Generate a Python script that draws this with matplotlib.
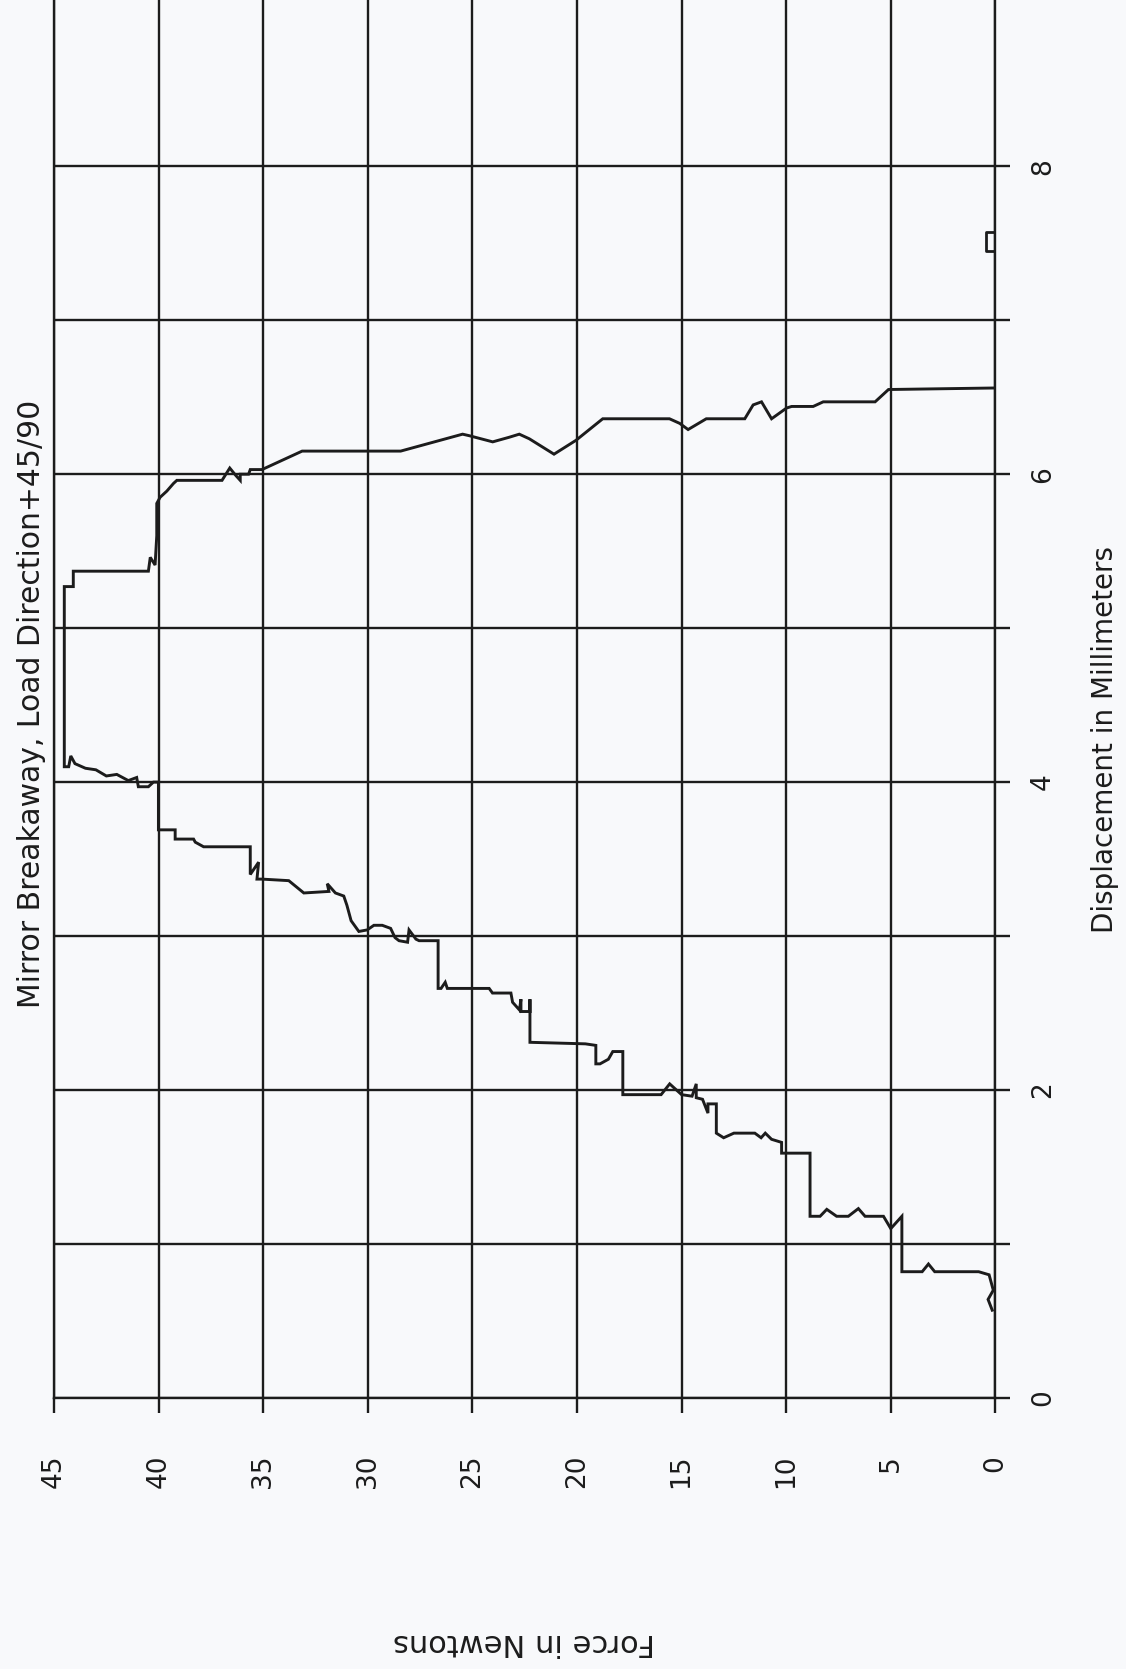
import matplotlib
matplotlib.use("Agg")
import matplotlib.pyplot as plt

# ---- data ----
force_N = [0.15, 0.35, 0.10, 0.30, 0.8, 2.9, 3.2, 3.5, 4.47, 4.47, 5.0, 5.35, 6.23, 6.55, 7.03,
           7.59, 8.06, 8.38, 8.86, 8.86, 10.22, 10.22, 10.7, 11.0, 11.2, 11.5, 12.5, 12.99,
           13.34, 13.34, 13.74, 13.74, 14.0, 14.3, 14.3, 14.5, 15.0, 15.57, 15.98, 17.81,
           17.81, 18.29, 18.5, 18.9, 19.1, 19.1, 19.6, 22.25, 22.25, 22.25, 22.68, 22.68,
           22.75, 23.08, 23.16, 24.04, 24.20, 26.2, 26.3, 26.5, 26.64, 26.64, 27.55, 27.7,
           28.03, 28.1, 28.51, 28.7, 28.91, 29.31, 29.71, 30.03, 30.43, 30.8, 31.0, 31.15,
           31.55, 31.94, 31.86, 33.06, 33.78, 35.06, 35.3, 35.22, 35.62, 35.62, 37.85, 38.25,
           38.33, 39.21, 39.21, 40.01, 40.01, 40.25, 40.49, 40.97, 41.05, 41.45, 42.0, 42.5,
           43.0, 43.5, 44.0, 44.2, 44.3, 44.51, 44.51, 44.08, 44.08, 40.49, 40.4, 40.17,
           40.09, 40.09, 39.93, 39.61, 39.29, 39.13, 36.97, 36.6, 36.3, 36.1, 36.1, 35.7,
           35.62, 35.06, 33.14, 28.43, 25.47, 25.15, 24.03, 23.24, 22.76, 22.28, 21.1, 20.05,
           18.77, 15.58, 15.09, 14.69, 13.82, 11.98, 11.58, 11.18, 10.70, 9.98, 9.74, 8.71,
           8.23, 5.75, 5.11, 0.0]
disp_mm = [0.57, 0.64, 0.70, 0.80, 0.82, 0.82, 0.87, 0.82, 0.82, 1.18, 1.10, 1.18, 1.18, 1.23,
           1.18, 1.18, 1.225, 1.18, 1.18, 1.59, 1.59, 1.66, 1.68, 1.72, 1.69, 1.72, 1.72, 1.69,
           1.72, 1.91, 1.91, 1.85, 1.94, 1.95, 2.04, 1.96, 1.97, 2.04, 1.97, 1.97, 2.25, 2.25,
           2.20, 2.17, 2.17, 2.29, 2.30, 2.31, 2.59, 2.51, 2.51, 2.59, 2.52, 2.57, 2.63, 2.63,
           2.66, 2.66, 2.70, 2.66, 2.66, 2.97, 2.97, 2.98, 3.04, 2.96, 2.97, 2.99, 3.05, 3.07,
           3.07, 3.04, 3.03, 3.10, 3.20, 3.26, 3.28, 3.34, 3.29, 3.28, 3.36, 3.37, 3.37, 3.48,
           3.40, 3.58, 3.58, 3.61, 3.63, 3.63, 3.69, 3.69, 4.00, 4.00, 3.97, 3.97, 4.03, 4.01,
           4.05, 4.04, 4.08, 4.09, 4.12, 4.17, 4.10, 4.10, 5.27, 5.27, 5.37, 5.37, 5.46, 5.41,
           5.60, 5.81, 5.85, 5.89, 5.94, 5.96, 5.96, 6.04, 5.99, 5.96, 6.00, 6.00, 6.03, 6.03,
           6.15, 6.15, 6.26, 6.25, 6.21, 6.24, 6.26, 6.23, 6.13, 6.22, 6.36, 6.36, 6.33, 6.29,
           6.36, 6.36, 6.45, 6.47, 6.36, 6.43, 6.44, 6.44, 6.47, 6.47, 6.55, 6.56]

box_force_N = [0.0, 0.45, 0.45, 0.0]
box_disp_mm = [7.45, 7.45, 7.57, 7.57]

force_ticks = [0, 5, 10, 15, 20, 25, 30, 35, 40, 45]
force_labels = ["0", "5", "10", "15", "20", "25", "30", "35", "40", "45"]
disp_ticks = [0, 1, 2, 3, 4, 5, 6, 7, 8]
disp_labels = ["0", "", "2", "", "4", "", "6", "", "8"]

title = "Mirror Breakaway, Load Direction+45/90"
xlabel = "Force in Newtons"
ylabel = "Displacement in Millimeters"

# ---- figure ----
ink = "#1c1c1c"
bg = "#f8f9fb"
fig = plt.figure(figsize=(11.26, 16.69), dpi=100, facecolor=bg)
ax = fig.add_axes([0.048, 0.1624, 0.836, 0.8376])
ax.set_facecolor(bg)

ax.plot(force_N, disp_mm, color=ink, lw=2.1, solid_joinstyle="miter")
ax.plot(box_force_N, box_disp_mm, color=ink, lw=2.0)

ax.set_xlim(45, 0)
ax.set_ylim(0, 9.08)

ax.set_xticks(force_ticks)
ax.set_xticklabels(force_labels)
ax.set_yticks(disp_ticks)
ax.set_yticklabels(disp_labels)

ax.grid(True, color=ink, lw=1.7)
ax.set_axisbelow(True)

for s in ["left", "right", "bottom"]:
    ax.spines[s].set_color(ink)
    ax.spines[s].set_linewidth(1.7)
ax.spines["top"].set_visible(False)

ax.tick_params(axis="x", direction="out", length=11, width=1.7, color=ink,
               pad=30, labelsize=19, labelrotation=90, labelcolor=ink)
ax.tick_params(axis="y", direction="out", length=11, width=1.7, color=ink,
               left=False, right=True, labelleft=False, labelright=True,
               pad=14, labelsize=19, labelrotation=90, labelcolor=ink)
for t in ax.get_yticklabels():
    t.set_va("center")

fig.text(0.028, 0.578, title, rotation=90, ha="center", va="center",
         fontsize=21.5, color=ink)
fig.text(0.981, 0.557, ylabel, rotation=90, ha="center", va="center",
         fontsize=20, color=ink)
fig.text(0.465, 0.016, xlabel, rotation=180, ha="center", va="center",
         fontsize=22, color=ink)

fig.savefig("out.png", dpi=100, facecolor=bg)
